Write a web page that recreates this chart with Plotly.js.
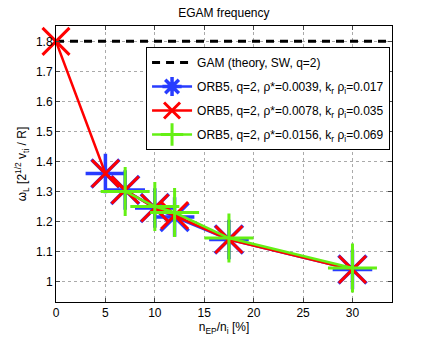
<!DOCTYPE html>
<html>
<head>
<meta charset="utf-8">
<script src="https://cdn.plot.ly/plotly-3.0.1.min.js"></script>
<style>
  body { margin: 0; background: #fff; }
  #myDiv { width: 433px; height: 340px; }
</style>
</head>
<body>
<div id="myDiv"></div>
<script>
var gamX = [0, 34];
var gamY = [1.8, 1.8];

var blueX = [5, 7, 10, 12, 17.5, 30];
var blueY = [1.36, 1.305, 1.245, 1.215, 1.14, 1.04];

var redX = [0, 5, 7, 10, 12, 17.5, 30];
var redY = [1.8, 1.36, 1.305, 1.245, 1.22, 1.14, 1.04];

var greenX = [7, 10, 12, 17.5, 30];
var greenY = [1.30, 1.25, 1.23, 1.145, 1.045];

var font = 'Liberation Sans, Arial, sans-serif';

var trace0 = {
    x: gamX,
    y: gamY,
    name: 'GAM (theory, SW, q=2)',
    legendgroup: 'g0',
    mode: 'lines',
    line: { color: 'black', width: 3, dash: '8px,6px' },
    type: 'scatter'
};
var trace1 = {
    x: blueX,
    y: blueY,
    name: 'ORB5, q=2, ρ*=0.0039, k<sub>r</sub> ρ<sub>i</sub>=0.017',
    legendgroup: 'g1',
    mode: 'lines+markers',
    cliponaxis: false,
    line: { color: 'rgb(40, 60, 255)', width: 2.5 },
    marker: { symbol: 'asterisk-open', size: 33, line: { color: 'rgb(40, 60, 255)', width: 3.5 } },
    type: 'scatter'
};
var trace2 = {
    x: redX,
    y: redY,
    name: 'ORB5, q=2, ρ*=0.0078, k<sub>r</sub> ρ<sub>i</sub>=0.035',
    legendgroup: 'g2',
    mode: 'lines+markers',
    cliponaxis: false,
    line: { color: 'rgb(255, 0, 0)', width: 2.5 },
    marker: { symbol: 'x-thin-open', size: 27, line: { color: 'rgb(255, 0, 0)', width: 3 } },
    type: 'scatter'
};
var trace3 = {
    x: greenX,
    y: greenY,
    name: 'ORB5, q=2, ρ*=0.0156, k<sub>r</sub> ρ<sub>i</sub>=0.069',
    legendgroup: 'g3',
    mode: 'lines+markers',
    cliponaxis: false,
    line: { color: 'rgb(100, 240, 20)', width: 2.5 },
    marker: { symbol: 'cross-thin-open', size: 35, line: { color: 'rgb(100, 240, 20)', width: 3 } },
    type: 'scatter'
};

var data = [trace0, trace1, trace2, trace3];

var layout = {
    width: 433,
    height: 340,
    margin: { l: 56, r: 41, t: 26, b: 38 },
    paper_bgcolor: 'white',
    plot_bgcolor: 'white',
    font: { family: font, size: 12, color: 'black' },
    title: {
        text: 'EGAM frequency',
        font: { size: 12 },
        x: 0.517,
        xanchor: 'center',
        y: 0.962,
        yanchor: 'middle'
    },
    xaxis: {
        title: { text: 'n<sub>EP</sub>/n<sub>i</sub> [%]', font: { size: 12 }, standoff: 1 },
        range: [0, 34],
        tickvals: [0, 5, 10, 15, 20, 25, 30],
        ticks: 'inside',
        ticklen: 4,
        tickfont: { size: 12 },
        showline: true,
        linecolor: 'black',
        linewidth: 1,
        mirror: 'ticks',
        showgrid: true,
        gridcolor: 'rgb(170, 170, 170)',
        griddash: 'dot',
        zeroline: false
    },
    yaxis: {
        title: { text: 'ω<sub>L</sub> [2<sup>1/2</sup> v<sub>ti</sub> / R]', font: { size: 12 }, standoff: 6 },
        range: [0.932, 1.851],
        tickvals: [1, 1.1, 1.2, 1.3, 1.4, 1.5, 1.6, 1.7, 1.8],
        ticktext: ['1', '1.1', '1.2', '1.3', '1.4', '1.5', '1.6', '1.7', '1.8'],
        ticks: 'inside',
        ticklen: 4,
        tickfont: { size: 12 },
        showline: true,
        linecolor: 'black',
        linewidth: 1,
        mirror: 'ticks',
        showgrid: true,
        gridcolor: 'rgb(170, 170, 170)',
        griddash: 'dot',
        zeroline: false
    },
    legend: {
        x: 0.268,
        y: 0.924,
        xanchor: 'left',
        yanchor: 'top',
        bgcolor: 'white',
        bordercolor: 'black',
        borderwidth: 1,
        font: { size: 12 },
        itemwidth: 40,
        traceorder: 'grouped',
        tracegroupgap: 5
    },
    showlegend: true
};

Plotly.newPlot('myDiv', data, layout, { displayModeBar: false, staticPlot: true });
</script>
</body>
</html>
